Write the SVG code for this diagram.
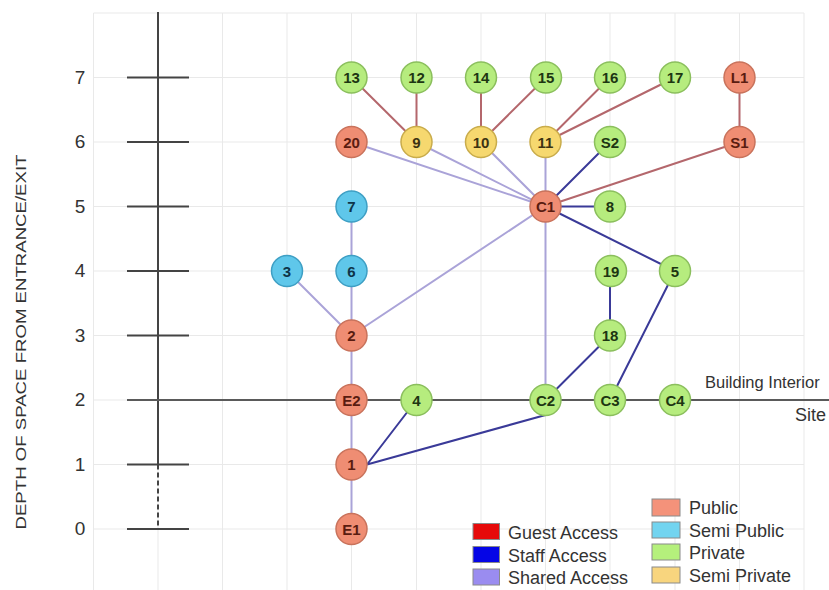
<svg xmlns="http://www.w3.org/2000/svg" width="829" height="590" viewBox="0 0 829 590">
<style>
.grid{stroke:#e9e9e9;stroke-width:1;fill:none}
.axis{stroke:#444;stroke-width:2;fill:none}
.tick{font-family:"Liberation Sans",Arial,sans-serif;font-size:19px;fill:#333;text-anchor:middle}
.lbl{font-family:"Liberation Sans",Arial,sans-serif;font-size:18px;fill:#333}
.guest{stroke:#b4676c;stroke-width:2;fill:none}
.staff{stroke:#3a3a98;stroke-width:2;fill:none}
.shared{stroke:#aaa3d8;stroke-width:2;fill:none}
.base{stroke:#5a5a5a;stroke-width:2;fill:none}
.pub circle{fill:#ef8d73;stroke:#c9735c;stroke-width:1.5}
.spub circle{fill:#5fc7ea;stroke:#3e9fc4;stroke-width:1.5}
.priv circle{fill:#b6ec7e;stroke:#8bbf5d;stroke-width:1.5}
.spriv circle{fill:#f6d86f;stroke:#c9ac4b;stroke-width:1.5}
.node text{font-family:"Liberation Sans",Arial,sans-serif;font-size:15px;font-weight:bold;text-anchor:middle}
.pub text{fill:#5a1c10}
.spub text{fill:#0e3448}
.priv text{fill:#1d3612}
.spriv text{fill:#3d3312}
.sw{stroke:#8a8a8a;stroke-width:1}
</style>
<rect x="0" y="0" width="829" height="590" fill="#ffffff"/>
<g id="grid">
<path class="grid" d="M93.5 13V590M158 13V590M222.5 13V590M287 13V590M351.5 13V590M416.5 13V590M481 13V590M545.5 13V590M610 13V590M675 13V590M739.5 13V590M804 13V590"/>
<path class="grid" d="M93.5 13H804M93.5 77.5H804M93.5 142H804M93.5 206.5H804M93.5 271H804M93.5 335.5H804M93.5 400H804M93.5 464.5H804M93.5 529H804"/>
</g>
<g id="axis">
<path class="axis" d="M158 12V464.5"/>
<path class="axis" d="M158 464.5V529" stroke-dasharray="5 3" stroke-width="1.5"/>
<path class="axis" d="M127 77.5H189M127 142H189M127 206.5H189M127 271H189M127 335.5H189M127 464.5H189M127 529H189"/>
<text class="tick" x="80" y="83.5">7</text>
<text class="tick" x="80" y="148">6</text>
<text class="tick" x="80" y="212.5">5</text>
<text class="tick" x="80" y="277">4</text>
<text class="tick" x="80" y="341.5">3</text>
<text class="tick" x="80" y="406">2</text>
<text class="tick" x="80" y="470.5">1</text>
<text class="tick" x="80" y="535">0</text>
<text x="0" y="0" transform="translate(26 342) rotate(-90)" font-family="Liberation Sans,Arial,sans-serif" font-size="14" fill="#333" text-anchor="middle" textLength="375" lengthAdjust="spacingAndGlyphs">DEPTH OF SPACE FROM ENTRANCE/EXIT</text>
</g>
<g id="connectors">
<path class="base" d="M127 400H829"/>
<path class="guest" d="M351.5 77.5L416.5 142M416.5 77.5V142M481 77.5V142M546 77.5L481 142M610 77.5L545.5 142M675 77.5L545.5 142M739.5 77.5V142M739.5 142L545.5 206.5"/>
<path class="shared" d="M351.5 142L545.5 206.5M416.5 142L545.5 206.5M481 142L545.5 206.5M545.5 142V206.5M545.5 206.5L351.5 335.5M545.5 206.5V400M351.5 206.5V271M351.5 271V335.5M287 271L351.5 335.5M351.5 335.5V529"/>
<path class="staff" d="M610 142L545.5 206.5M545.5 206.5H610M545.5 206.5L675 271M367 464.5L416.5 400M367 464.5L545.5 415M545.5 400L610 335.5M610 335.5V271M610 400L675 271"/>
</g>
<g id="nodes">
<g id="n13" class="node priv"><circle cx="351.5" cy="77.5" r="15.5"/><text x="351.5" y="83">13</text></g>
<g id="n12" class="node priv"><circle cx="416.5" cy="77.5" r="15.5"/><text x="416.5" y="83">12</text></g>
<g id="n14" class="node priv"><circle cx="481" cy="77.5" r="15.5"/><text x="481" y="83">14</text></g>
<g id="n15" class="node priv"><circle cx="546" cy="77.5" r="15.5"/><text x="546" y="83">15</text></g>
<g id="n16" class="node priv"><circle cx="610" cy="77.5" r="15.5"/><text x="610" y="83">16</text></g>
<g id="n17" class="node priv"><circle cx="675" cy="77.5" r="15.5"/><text x="675" y="83">17</text></g>
<g id="nL1" class="node pub"><circle cx="739.5" cy="77.5" r="15.5"/><text x="739.5" y="83">L1</text></g>
<g id="n20" class="node pub"><circle cx="351.5" cy="142" r="15.5"/><text x="351.5" y="147.5">20</text></g>
<g id="n9" class="node spriv"><circle cx="416.5" cy="142" r="15.5"/><text x="416.5" y="147.5">9</text></g>
<g id="n10" class="node spriv"><circle cx="481" cy="142" r="15.5"/><text x="481" y="147.5">10</text></g>
<g id="n11" class="node spriv"><circle cx="545.5" cy="142" r="15.5"/><text x="545.5" y="147.5">11</text></g>
<g id="nS2" class="node priv"><circle cx="610" cy="142" r="15.5"/><text x="610" y="147.5">S2</text></g>
<g id="nS1" class="node pub"><circle cx="739.5" cy="142" r="15.5"/><text x="739.5" y="147.5">S1</text></g>
<g id="n7" class="node spub"><circle cx="351.5" cy="206.5" r="15.5"/><text x="351.5" y="212">7</text></g>
<g id="nC1" class="node pub"><circle cx="545.5" cy="206.5" r="15.5"/><text x="545.5" y="212">C1</text></g>
<g id="n8" class="node priv"><circle cx="610" cy="206.5" r="15.5"/><text x="610" y="212">8</text></g>
<g id="n3" class="node spub"><circle cx="287" cy="271" r="15.5"/><text x="287" y="276.5">3</text></g>
<g id="n6" class="node spub"><circle cx="351.5" cy="271" r="15.5"/><text x="351.5" y="276.5">6</text></g>
<g id="n19" class="node priv"><circle cx="611" cy="271" r="15.5"/><text x="611" y="276.5">19</text></g>
<g id="n5" class="node priv"><circle cx="675" cy="271" r="15.5"/><text x="675" y="276.5">5</text></g>
<g id="n2" class="node pub"><circle cx="351.5" cy="335.5" r="15.5"/><text x="351.5" y="341">2</text></g>
<g id="n18" class="node priv"><circle cx="610" cy="335.5" r="15.5"/><text x="610" y="341">18</text></g>
<g id="nE2" class="node pub"><circle cx="351.5" cy="400" r="15.5"/><text x="351.5" y="405.5">E2</text></g>
<g id="n4" class="node priv"><circle cx="416.5" cy="400" r="15.5"/><text x="416.5" y="405.5">4</text></g>
<g id="nC2" class="node priv"><circle cx="545.5" cy="400" r="15.5"/><text x="545.5" y="405.5">C2</text></g>
<g id="nC3" class="node priv"><circle cx="610" cy="400" r="15.5"/><text x="610" y="405.5">C3</text></g>
<g id="nC4" class="node priv"><circle cx="675" cy="400" r="15.5"/><text x="675" y="405.5">C4</text></g>
<g id="n1" class="node pub"><circle cx="351.5" cy="464.5" r="15.5"/><text x="351.5" y="470">1</text></g>
<g id="nE1" class="node pub"><circle cx="351.5" cy="529" r="15.5"/><text x="351.5" y="534.5">E1</text></g>
</g>
<g id="labels">
<text class="lbl" x="705" y="388" style="font-size:16.5px">Building Interior</text>
<text class="lbl" x="826" y="421" text-anchor="end">Site</text>
</g>
<g id="legend">
<rect class="sw" x="473" y="523.5" width="26.5" height="16" fill="#e60a0a"/>
<rect class="sw" x="473" y="546.5" width="26.5" height="16" fill="#0505e6"/>
<rect class="sw" x="473" y="569" width="26.5" height="16" fill="#9a8cf0"/>
<text class="lbl" x="508" y="539">Guest Access</text>
<text class="lbl" x="508" y="562">Staff Access</text>
<text class="lbl" x="508" y="584">Shared Access</text>
<rect class="sw" x="652" y="499" width="28" height="17" fill="#f4927a"/>
<rect class="sw" x="652" y="522" width="28" height="16" fill="#72d4f0"/>
<rect class="sw" x="652" y="544" width="28" height="16" fill="#b5f07c"/>
<rect class="sw" x="652" y="567" width="28" height="16" fill="#f8d57e"/>
<text class="lbl" x="689" y="514">Public</text>
<text class="lbl" x="689" y="537">Semi Public</text>
<text class="lbl" x="689" y="559">Private</text>
<text class="lbl" x="689" y="582">Semi Private</text>
</g>
</svg>
